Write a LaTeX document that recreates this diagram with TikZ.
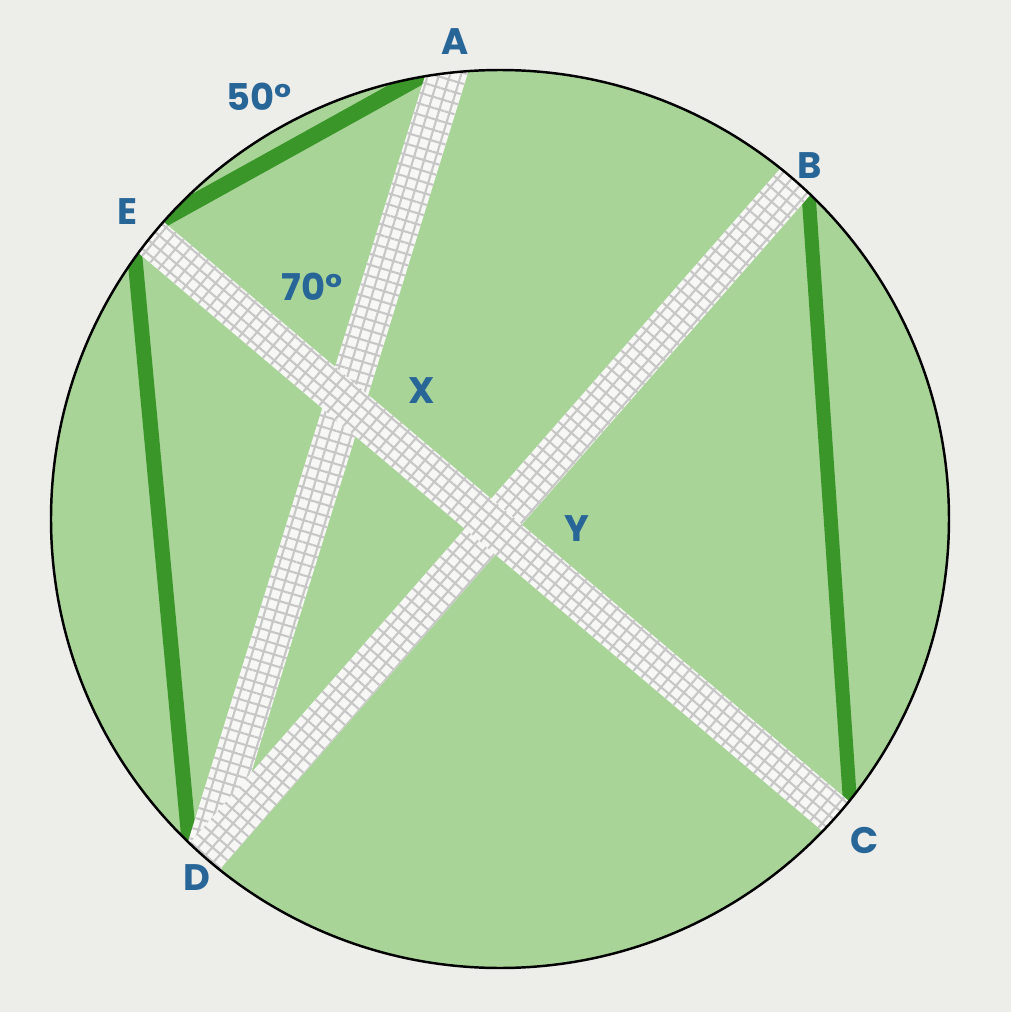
\documentclass[tikz,border=0pt]{standalone}
\usepackage{fontspec}
\setmainfont{Poppins}
\usetikzlibrary{calc,patterns.meta}
\definecolor{paper}{RGB}{237,237,234}
\definecolor{disc}{RGB}{168,212,152}
\definecolor{chord}{RGB}{58,150,40}
\definecolor{tag}{RGB}{40,102,152}
\definecolor{strap}{RGB}{247,247,245}
\def\band[#1](#2)(#3){\path[preaction={fill=strap}, pattern={Hatch[angle=#1, distance=3pt, line width=0.6pt]}, pattern color=black!22] ($(#2)!-0.3cm!(#3)!0.2cm!90:(#3)$) -- ($(#3)!-0.3cm!(#2)!0.2cm!-90:(#2)$) -- ($(#3)!-0.3cm!(#2)!0.2cm!90:(#2)$) -- ($(#2)!-0.3cm!(#3)!0.2cm!-90:(#3)$) -- cycle;}

\begin{document}
\begin{tikzpicture}[lbl/.style={text=tag, font=\bfseries\fontsize{10.5}{12}\selectfont}]
			%%%%% START %%%%%
			
			\fill[paper] (0, 0) rectangle (10.11, 10.12);
			\useasboundingbox (0, 0) rectangle (10.11, 10.12);
			
			\coordinate (O) at (5.00, 4.93);
			\coordinate (A) at ($(O)+(96.8:4.49)$);
			\coordinate (B) at ($(O)+(48.8:4.49)$);
			\coordinate (C) at ($(O)+(-41.5:4.49)$);
			\coordinate (D) at ($(O)+(-131.2:4.49)$);
			\coordinate (E) at ($(O)+(141.1:4.49)$);
			
			\fill[disc] (O) circle (4.49);
			
			\begin{scope}
			\clip (O) circle (4.49);
			
			\draw[line width=0.16cm, color=chord, shorten <=-0.2cm, shorten >=-0.2cm] ($(O)+(100.4:4.49)$) -- ($(O)+(137.6:4.49)$);
			\draw[line width=0.15cm, color=chord, shorten <=-0.2cm, shorten >=-0.2cm] ($(O)+(144.4:4.49)$) -- ($(O)+(226.2:4.49)$);
			\draw[line width=0.14cm, color=chord, shorten <=-0.2cm, shorten >=-0.2cm] ($(O)+(46.6:4.49)$) -- ($(O)+(-38.8:4.49)$);
			
			\band[73.1](A)(D)
			\band[49.1](B)(D)
			\band[-40.2](E)(C)
			\end{scope}
			
			\draw[line width=0.7pt] (O) circle (4.49);
			
			\node[lbl] (lA) at (4.55, 9.70) {A};
			\node[lbl] (lB) at (8.10, 8.46) {B};
			\node[lbl] (lC) at (8.65, 1.72) {C};
			\node[lbl] (lD) at (1.97, 1.34) {D};
			\node[lbl] (lE) at (1.27, 8.00) {E};
			\node[lbl] (lX) at (4.22, 6.21) {X};
			\node[lbl] (lY) at (5.77, 4.83) {Y};
			\node[lbl] (aEA) at (2.59, 9.15) {50°};
			\node[lbl] (aX) at (3.12, 7.25) {70°};
			
			%%%%% END %%%%%
\end{tikzpicture}
\end{document}
